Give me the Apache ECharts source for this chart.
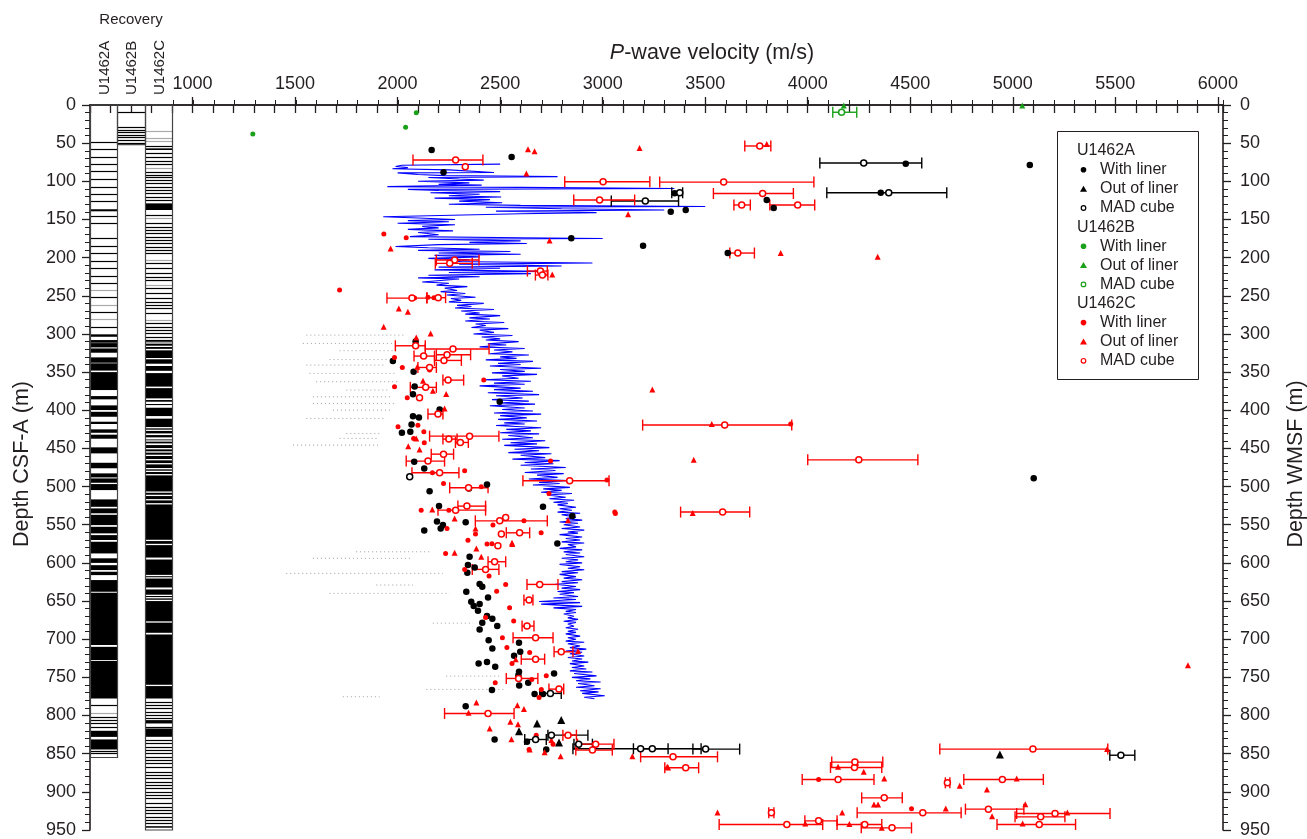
<!DOCTYPE html>
<html>
<head>
<meta charset="utf-8">
<script src="https://cdn.jsdelivr.net/npm/echarts@6/dist/echarts.min.js"></script>
<style>
html, body { margin: 0; padding: 0; background: #fff; }
#chart { width: 1307px; height: 839px; }
</style>
</head>
<body>
<div id="chart"></div>
<script>
// P-wave velocity (m/s) vs depth (m)
const velTicks = [1000, 1500, 2000, 2500, 3000, 3500, 4000, 4500, 5000, 5500, 6000]
const holes = ['U1462A', 'U1462B', 'U1462C']

// continuous log (blue), [velocity, depth]
const pwl = [
  [2500,77.5],[2020,79],[1990,80.5],[2050,82],[1975,83.5],[2250,85],[2470,88.5],[2000,89],[2100,91],[2230,92.5],
  [2780,93.8],[2150,95],[2300,97],[2420,98.5],[2100,100],[2350,102],[2200,104],[2410,105],[1950,107],[2600,108],
  [3350,109.5],[2050,110.5],[2200,112],[2500,113.5],[2160,115],[2400,117],[2250,119],[2505,120.5],[2180,122],[2450,124],
  [2300,126],[2510,128],[2250,130],[2600,131.5],[3500,133],[2430,134],[2800,136],[3300,137.5],[2480,139],[2970,141],
  [2600,142.5],[1930,146.5],[2100,148],[2280,150],[2050,151.5],[2250,153],[2000,155],[2280,157],[2120,159],[2200,161],
  [2050,163],[2270,165],[2100,167],[2200,170],[2060,172.5],[2600,174],[3000,175],[2150,176],[2600,178],[2350,180],
  [2630,181.5],[2200,183],[1990,185.5],[2150,187],[2400,189],[2100,190.5],[2550,192],[2200,194],[2600,195.5],[2180,197],
  [2400,199],[2150,201],[2350,203],[2250,205],[2950,207],[2300,208.5],[2800,211],[2200,212.5],[2500,214],[2180,216],
  [2700,218],[2250,219.5],[2650,221],[2150,223],[2400,225],[2100,226.5],[2300,228],
  [2300,230],[2120,232],[2250,233.5],[2190,236],[2340,238],[2230,240],[2290,243],[2210,244.5],[2330,247],[2240,249],
  [2380,252],[2260,253.5],[2310,256],[2250,258],[2420,260],[2290,262.5],[2360,264],[2280,266],[2470,268],[2310,270],
  [2400,272.5],[2330,274],[2500,276],[2350,279],[2450,280.5],[2330,283],[2520,285],[2380,287],[2430,289],[2360,291.5],
  [2540,293],[2400,295],[2470,298],[2370,300],[2560,302],[2410,304],[2500,306.5],[2430,308],[2590,310],[2440,313],
  [2530,314.5],[2400,317],[2620,319],[2470,321],[2560,323.5],[2450,326],[2640,327.5],[2500,330],[2580,332],[2430,334],
  [2660,336],[2490,338.5],[2600,340],[2450,342],[2700,345],[2500,346.5],[2620,349],[2460,351],[2680,353],[2510,355],
  [2590,358],[2420,360],[2650,362],[2470,364.5],[2620,366],[2400,368],[2600,371],[2470,373],[2660,375],[2440,377],
  [2690,379.5],[2480,381],[2610,384],[2460,386],[2640,388],[2500,390.5],[2670,392],[2450,394],[2620,397],[2510,399],
  [2660,401],[2470,403.5],[2700,405],[2500,407],[2630,410],[2490,412],[2680,414],[2520,416.5],[2620,418],[2480,420],
  [2700,423],[2530,425],[2650,427],[2500,429.5],[2690,431],[2540,433],[2660,436],[2510,438],[2720,440],[2550,442.5],
  [2680,444],[2520,446],[2740,449],[2570,451],[2690,453],[2540,455.5],[2750,457],[2600,459],[2720,462],[2560,464],
  [2790,466],[2620,468.5],[2760,470],[2600,472],[2820,475],[2650,477],[2770,479],[2620,481.5],[2810,483],[2680,485],
  [2780,488],[2640,490],[2830,492],[2690,494.5],[2790,496],[2660,498],[2840,501],[2710,503],[2800,505],[2700,507.5],
  [2850,509],[2730,511],[2820,514],[2740,516],[2860,518],[2760,520.5],[2830,522],[2780,524],[2870,527],[2790,529],
  [2850,531],[2780,533.5],[2890,535],[2800,537],[2870,540],[2820,542],[2900,544],[2790,546.5],[2880,548],[2810,550],
  [2890,553],[2800,555],[2910,557],[2830,559.5],[2880,561],[2790,563],[2900,566],[2820,568],[2890,570],[2800,572.5],
  [2910,574],[2830,576],[2870,579],[2790,581],[2900,583],[2810,585.5],[2890,587],[2820,589],[2910,592],[2800,594],
  [2880,596],[2820,598.5],[2900,600],[2790,602],[2890,605],[2830,607],[2910,609],[2800,611.5],[2880,613],[2790,615],
  [2870,618],[2810,620],[2900,622],[2800,624.5],[2880,626],[2770,628],[2870,631],[2800,633],[2890,635],[2780,637.5],
  [2860,639],[2790,641],[2880,644],[2760,646],[2870,648],[2690,650.5],[2890,652],[2700,654],[2900,657],[2760,659],
  [2870,661],[2820,663.5],[2870,665],[2810,667],[2860,670],[2830,672],[2880,674],[2810,676.5],[2870,678],[2830,680],
  [2860,683],[2820,685],[2880,687],[2830,689.5],[2870,691],[2820,693],[2890,696],[2830,698],[2870,700],[2820,702.5],
  [2910,704],[2830,706],[2890,709],[2840,711],[2920,713],[2820,715.5],[2900,717],[2840,719],[2910,722],[2830,724],
  [2900,726],[2850,728.5],[2930,730],[2840,732],[2910,735],[2850,737],[2920,739],[2840,741.5],[2950,743],[2860,745],
  [2970,748],[2850,750],[2940,752],[2870,754.5],[2990,756],[2880,758],[2960,761],[2870,763],[2990,765],[2890,767.5],
  [2980,769],[2900,771],[3010,774],[2910,776],[2960,778]
]

// faint grey streaks: [depth, vFrom, vTo]
const greyStreaks = [
  [301.5,1555,2042],[312.4,1538,1977],[322,1717,1993],[333.4,1668,1961],[340.8,1555,1945],[351.7,1570,1993],
  [362.6,1603,2010],[373.5,1750,1961],[382.3,1587,1977],[391,1587,1993],[399.8,1685,1977],[410.7,1555,1945],
  [430.4,1750,1912],[436.9,1717,1912],[445.7,1490,1912],[585.4,1798,2156],[594,1587,2075],[613.8,1457,2221],
  [629,1896,2075],[640,1668,2254],[679,2172,2368],[748.4,2237,2497],[765.8,2140,2530],[775.4,1733,1912]
]

// U1462A  [velocity, depth]; MAD cube [velocity, depth, low, high]
const aLiner = [
  [2166,59],[2556,68],[2224,88],[4478,77],[5083,78.6],[4356,115],[3351,115.5],[3405,137.6],[3332,140],
  [3800,124.5],[3834,135],[2847,174.6],[3197,184.4],[3610,194],[5102,489],
  [2088,310],[1977,335.6],[2078,349.5],[2083,369],[2075,379],[2498,389],[2205,399],[2075,407.7],[2104,409.4],
  [2068,418.6],[2062,428.2],[2021,429.5],[2081,467.5],[2130,476.3],[2436,497.2],[2348,502.5],[2156,506],
  [2202,525.6],[2709,526.5],[2332,546.6],[2192,545.7],[2221,550.5],[2210,554.9],[2130,557.5],[2852,538.7],
  [2779,574.5],[2351,592],[2343,602.9],[2376,605.9],[2340,612.9],[2400,627.8],[2413,631.3],[2335,637.8],
  [2441,645.2],[2359,650.9],[2400,654],[2371,656.6],[2392,662.7],[2436,669.7],[2462,673.2],[2413,678.5],
  [2486,682.8],[2400,687.2],[2444,701.2],[2592,704.7],[2462,712.1],[2598,716.5],[2568,721.7],[2395,731.7],
  [2436,730],[2476,736.1],[2592,742.7],[2589,747.1],[2763,744.9],[2637,757.1],[2593,760.6],[2460,766.7],
  [2668,771.9],[2709,771.9],[2332,787.7],[2473,831.4],[2725,844.5],[2631,834.4]
]
const aOut = [[2592,820.5],[2680,810.4],[2798,806],[2787,835.3],[4937,851]]
const aMad = [
  [4273,76,4059,4556],[4395,115,4093,4678],[3376,115,3337,3390],[3208,125.8,3042,3370],[2059,487.2,2059,2059],
  [2745,771,2693,2798],[2673,831.4,2620,2725],[2750,825.7,2733,2928],[2883,837.5,2860,2950],
  [3185,843.6,2855,3319],[3242,843.6,3150,3480],[3502,844,3440,3668],[5527,852,5473,5595]
]

// U1462B
const bLiner = [[2091,10],[2039,29.3],[1294,38]]
const bOut = [[4176,0.5],[5046,0.5]]
const bMad = [[4165,9.5,4122,4239]]

// U1462C
const cLiner = [
  [1933,169],[2042,173.9],[1717,242.5],[2083,253],[2177,252.5],[2075,252],[2148,252],[1985,330.8],[2023,343.9],
  [2156,347.4],[2420,360.5],[1985,369.2],[2047,383.6],[2002,421.6],[2099,419.5],[2128,428.2],[2078,436.9],
  [2130,442.6],[2150,466.6],[2170,481.9],[2327,479.3],[3021,491.5],[2746,466.6],[3062,535.2],[2738,509],
  [2408,500.3],[2224,496],[2115,530.9],[2250,531],[2616,544.9],[2465,550.5],[2241,554.9],[2700,560.6],
  [2380,562],[2343,570.2],[2460,575],[2234,587.6],[2436,575.3],[2327,608.5],[2446,617.3],[2527,628.2],
  [2483,637],[2546,658.8],[2429,671.5],[2566,676.3],[2511,698.1],[2533,710.8],[2644,717.3],[2558,731.7],
  [2725,747.9],[2654,752.7],[2476,757.1],[2701,765.8],[2690,776.3],[2676,826],[2641,844.5],[2758,837.5],
  [3917,418],[3059,533.4],[4053,883.8],[4506,922.3]
]
const cOut = [
  [2636,58.1],[2668,60.7],[3180,56.4],[3800,51],[2628,89.6],[3124,143.3],[2741,177.4],[1966,187.9],[2754,222],
  [2006,266.5],[2050,270.9],[1932,290.6],[2161,299.3],[2091,304.5],[2096,343],[2124,361.4],[2172,374.5],
  [2237,378.8],[2229,397.6],[2091,436.9],[2052,447],[2107,451.3],[3242,372.7],[2169,530],[2278,541.8],
  [2380,554.9],[2831,544],[2559,575.4],[2384,581],[2278,586.7],[2408,592],[2558,573.6],[2880,715.6],
  [2576,726.1],[2384,782.9],[2346,796.4],[2584,786.4],[2616,791.6],[2550,808.2],[2587,811.3],[2449,817],
  [2555,831],[2750,832.2],[2644,844.5],[2717,848],[2795,853.2],[3145,853.2],[3319,868],[3532,418],[3444,465],
  [3439,534.7],[5854,734],[3868,194],[4341,199],[3315,867.2],[4148,867.2],[4236,862],[4273,873.8],[4373,882.5],
  [4741,892.1],[5019,882.5],[4874,897],[4323,916.6],[4343,916.6],[5061,916.2],[4673,921.9],[5266,927.1],
  [4899,931.9],[3560,927.1],[4168,927],[3988,941.5],[4203,942],[4361,947],[5048,941.5],[5460,844]
]
const cMad = [
  [3766,53.7,3693,3820],[2283,72.1,2075,2416],[2330,80.8,2330,2330],[3002,100.5,2815,3230],[3590,101,3278,4030],
  [2985,124.5,2859,3156],[2278,203.2,2189,2397],[2254,207.5,2184,2364],[2696,217.6,2633,2730],
  [2706,222.8,2672,2733],[2070,253,1948,2143],[2198,252.5,2143,2234],[3659,194,3620,3740],[3678,131,3640,3720],
  [3951,131,3815,4034],[3780,116,3540,3930],
  [2088,315.5,1989,2135],[2270,319.8,2135,2446],[2127,329,2080,2180],[2241,327.3,2189,2356],[2226,334.7,2180,2311],
  [2156,343.9,2099,2189],[2246,360.5,2221,2322],[2137,370,2062,2189],[2107,383.6,2107,2107],[2197,405,2148,2221],
  [2351,433.9,2156,2494],[2250,437.8,2221,2290],[2306,442.2,2282,2345],[2224,457.5,2164,2273],
  [2148,466.6,2042,2229],[2205,481.9,2070,2299],[2839,492.4,2611,3031],[2346,501.6,2254,2441],
  [2283,530.9,2197,2429],[2338,525.6,2294,2429],[2498,544.9,2379,2730],[2527,540.5,2527,2527],
  [2595,560.6,2530,2644],[2506,562,2506,2506],[2489,577.6,2489,2489],[2473,598.5,2441,2527],
  [2429,608.5,2364,2494],[2693,628.2,2631,2782],[2641,648.7,2616,2660],[2631,682.8,2607,2665],
  [2673,698.1,2563,2758],[2798,716.5,2763,2855],[2673,726.1,2603,2717],[2590,751.4,2530,2684],
  [2787,765.4,2738,2810],[3595,419.4,3195,3922],[4249,465,4000,4537],[3585,533.4,3380,3717],
  [2441,797.3,2229,2568],[2831,825.7,2806,2872],[2966,837.5,2877,3055],[2950,845.3,2869,3047],
  [3343,854.1,3185,3560],[3405,868.5,3303,3468],[4228,868.1,4111,4361],[4148,883.8,3973,4323],
  [4681,888.2,4671,4693],[4949,883.8,4761,5149],[4373,907.9,4263,4461],[4881,922.7,4769,5054],
  [4561,927.5,4241,4748],[5206,928.4,5019,5474],[5136,932.8,5011,5254],[3823,927.5,3810,3835],
  [4053,938,3986,4143],[3898,942.8,3568,4073],[4278,942.8,4143,4361],[4411,947.2,4261,4506],
  [5129,942.8,4923,5306],[5098,844,4644,5463],[4230,861,4117,4366]
]

// recovery columns, depths in m
const recAEnd = 855, recBEnd = 52, recCEnd = 950
const recABands = [
  [136.6,139.3],[300.5,303.7],[308,311.5],[312,317.6],[319,324.6],[330.7,337.7],[338.5,348],[350,373.5],
  [381.4,385.7],[393.6,399.7],[402,408.5],[415,418],[425,429.5],[432,437.3],[448.6,456.5],[468.8,476],
  [482.7,488],[489.3,495],[496.7,504.6],[516.8,526.5],[528.6,535],[537,550.5],[552.7,561.3],[563.6,570],
  [572.3,587.6],[594,600],[603,609.4],[611.6,616],[622.5,637.8],[639,707.7],[710,727.4],[728.7,777.6],
  [820,828],[831.3,844.5]
]
const recALines = [48.9,58,68.6,77.8,86.9,97.4,107,117,126,146,155,174.7,184.3,194.4,204,214,223.7,232.9,252,
  271.7,291.4,786.3,801.6,806,810.4,814.8,846.6,849.7]
const recAGrey = [242,262,281,797.2]
const recBLines = [9.6,29.2,32.8,35.8,38.9,42.3,45.9,49.4]
const recCBands = [[56.8,59],[128.9,137.6],[309.5,777.6],[806,810.4],[817,827.9],[945,947]]
const recCGaps = [
  [311,312],[315.4,316.4],[319.5,321.5],[331.5,332.5],[339,342],[348.3,351.3],[369,371],[384.4,386.6],
  [388.8,391.8],[393.2,396.7],[407.6,411],[422,423],[425.4,426.4],[430.3,432.5],[435.5,438.2],[439.4,440.4],
  [443.4,445.6],[449.5,450.5],[453.8,454.8],[458.2,459.2],[463.9,464.9],[469.2,470.2],[475.7,476.7],
  [479.2,480.2],[483.6,484.6],[506.4,507.4],[510.7,511.7],[516.4,517.4],[521.7,522.7],[569.7,570.7],
  [575,576],[593,595.6],[615.7,616.7],[618.8,619.8],[632.2,634.8],[641.7,642.7],[644.8,645.8],[648.3,649.3],
  [676.6,677.6],[691.6,693.8],[759.7,760.7]
]
const recCLines = [53.3,63.3,67.7,73,77.8,87.4,91.7,94.8,98.3,102.7,107,111.4,115.8,120.1,124.5,144.2,155.1,
  159.5,163.9,168.2,172.6,177,181.3,185.7,190,194.4,207.5,214,220.6,225,229.3,240.3,246.8,253.4,257.8,262.1,
  266.5,273,286.2,290.6,294.9,299.3,303.7,308,781.9,786.3,790.7,795,799.4,803.7,814.8,832.2,836.6,841,845.3,
  849.7,854,858.4,862.8,867.2,873.7,878,882.4,886.8,891.2,895.5,899.9,904.2,908.6,915.2,919.5,923.9,928.3,
  932.6,937,941.4]
const recCGrey = [33.6,42.8,47.6,83,148.6,203.2,235.9,281.8]

const colEdges = [500, 633, 767, 900]
const ink = '#231f20'
const red = '#ff0000'
const green = '#1aa01a'
const font = "'Liberation Sans', Arial, sans-serif"

// recovery items: [column, top, bottom, kind] kind 0 band, 1 gap, 2 line, 3 grey line, 4 outline
const recItems = []
recABands.forEach(b => recItems.push([0, b[0], b[1], 0]))
recCBands.forEach(b => recItems.push([2, b[0], b[1], 0]))
recCGaps.forEach(b => recItems.push([2, b[0], b[1], 1]))
recALines.forEach(d => recItems.push([0, d, d, 2]))
recBLines.forEach(d => recItems.push([1, d, d, 2]))
recCLines.forEach(d => recItems.push([2, d, d, 2]))
recAGrey.forEach(d => recItems.push([0, d, d, 3]))
recCGrey.forEach(d => recItems.push([2, d, d, 3]))
recItems.push([0, 0, recAEnd, 4], [1, 0, recBEnd, 4], [2, 0, recCEnd, 4])

function renderRecovery(params, api) {
  const col = api.value(0), top = api.value(1), bot = api.value(2), kind = api.value(3)
  const p0 = api.coord([colEdges[col], top])
  const p1 = api.coord([colEdges[col + 1], bot])
  const x0 = Math.round(p0[0]), x1 = Math.round(p1[0])
  if (kind === 0 || kind === 1) {
    return { type: 'rect', shape: { x: x0, y: p0[1], width: x1 - x0, height: Math.max(1.3, p1[1] - p0[1]) },
      style: { fill: kind === 0 ? '#000' : '#fff' } }
  }
  if (kind === 2 || kind === 3) {
    const y = Math.round(p0[1]) + 0.5
    return { type: 'line', shape: { x1: x0, y1: y, x2: x1, y2: y },
      style: { stroke: kind === 2 ? '#000' : '#aaa', lineWidth: 1.2 } }
  }
  return { type: 'rect', shape: { x: x0 + 0.5, y: p0[1], width: x1 - x0, height: p1[1] - p0[1] },
    style: { fill: 'none', stroke: '#444', lineWidth: 1.2 } }
}

function errSeries(rows, color) {
  const data = rows.filter(r => r[3] > r[2]).map(r => [r[2], r[3], r[1]])
  return {
    type: 'custom', data, z: 4, silent: true,
    renderItem(params, api) {
      const a = api.coord([api.value(0), api.value(2)])
      const b = api.coord([api.value(1), api.value(2)])
      const h = 5.5
      const style = { stroke: color, lineWidth: 1.4 }
      return { type: 'group', children: [
        { type: 'line', shape: { x1: a[0], y1: a[1], x2: b[0], y2: b[1] }, style },
        { type: 'line', shape: { x1: a[0], y1: a[1] - h, x2: a[0], y2: a[1] + h }, style },
        { type: 'line', shape: { x1: b[0], y1: b[1] - h, x2: b[0], y2: b[1] + h }, style }
      ] }
    }
  }
}

function dots(data, color, symbol, size, z) {
  return { type: 'scatter', data, symbol, symbolSize: size, z: z || 5, silent: true,
    itemStyle: { color, opacity: 1 } }
}
function madDots(rows, color) {
  return { type: 'scatter', data: rows.map(r => [r[0], r[1]]), symbol: 'circle', symbolSize: 6, z: 6, silent: true,
    itemStyle: { color: '#fff', borderColor: color, borderWidth: 1.5, opacity: 1 } }
}

// legend drawn by hand
const legendRows = [
  ['U1462A', null, null], ['With liner', '#000', 'dot'], ['Out of liner', '#000', 'tri'], ['MAD cube', '#000', 'ring'],
  ['U1462B', null, null], ['With liner', green, 'dot'], ['Out of liner', green, 'tri'], ['MAD cube', green, 'ring'],
  ['U1462C', null, null], ['With liner', red, 'dot'], ['Out of liner', red, 'tri'], ['MAD cube', red, 'ring']
]
const legendEls = [{ type: 'rect', shape: { x: 1057.5, y: 131.5, width: 141, height: 248 },
  style: { fill: '#fff', stroke: ink, lineWidth: 1 }, z: 10 }]
legendRows.forEach((r, i) => {
  const y = 150.7 + i * 19.1
  if (!r[1]) {
    legendEls.push({ type: 'text', x: 1077, y, z: 11,
      style: { text: r[0], font: '16px ' + font, fill: ink, textVerticalAlign: 'middle' } })
    return
  }
  let sym
  if (r[2] === 'dot') sym = { type: 'circle', shape: { cx: 1083.5, cy: y, r: 2.8 }, style: { fill: r[1] } }
  else if (r[2] === 'tri') sym = { type: 'polygon', shape: { points: [[1083.5, y - 3.2], [1087, y + 2.8], [1080, y + 2.8]] }, style: { fill: r[1] } }
  else sym = { type: 'circle', shape: { cx: 1083.5, cy: y, r: 2.3 }, style: { fill: '#fff', stroke: r[1], lineWidth: 1.2 } }
  sym.z = 11
  legendEls.push(sym)
  legendEls.push({ type: 'text', x: 1100, y, z: 11,
    style: { text: r[0], font: '16px ' + font, fill: ink, textVerticalAlign: 'middle' } })
})

const textEls = [
  { type: 'text', x: 131, y: 20, style: { text: 'Recovery', font: '15px ' + font, fill: ink, textAlign: 'center', textVerticalAlign: 'middle' } },
  { type: 'text', x: 22, y: 464, rotation: Math.PI / 2,
    style: { text: 'Depth CSF-A (m)', font: '21.5px ' + font, fill: ink, textAlign: 'center', textVerticalAlign: 'middle' } },
  { type: 'text', x: 1296, y: 464, rotation: Math.PI / 2,
    style: { text: 'Depth WMSF (m)', font: '21.5px ' + font, fill: ink, textAlign: 'center', textVerticalAlign: 'middle' } }
]
holes.forEach((h, i) => {
  textEls.push({ type: 'text', x: 105 + i * 27.2, y: 95, rotation: Math.PI / 2,
    style: { text: h, font: '15px ' + font, fill: ink, textAlign: 'left', textVerticalAlign: 'middle' } })
})

const axisLine = { show: true, lineStyle: { color: ink, width: 1.6 } }
const depthAxis = (pos, margin) => ({
  type: 'value', gridIndex: 0, position: pos, inverse: true, min: 0, max: 950, interval: 50,
  axisLine, axisTick: { show: true, length: 8, lineStyle: { color: ink, width: 1.3 } },
  minorTick: { show: true, splitNumber: 5, length: 5, lineStyle: { color: ink, width: 1 } },
  axisLabel: { color: ink, fontSize: 18, fontFamily: font, margin },
  splitLine: { show: false }
})

const chart = echarts.init(document.getElementById('chart'))
chart.setOption({
  animation: false,
  backgroundColor: '#fff',
  title: {
    text: '{i|P}-wave velocity (m/s)', left: 707, top: 37, textAlign: 'center',
    textStyle: { fontSize: 21.5, fontWeight: 'normal', color: ink, fontFamily: font,
      rich: { i: { fontStyle: 'italic', fontSize: 21.5, color: ink, fontFamily: font } } }
  },
  grid: [
    { left: 90, right: 84, top: 105, bottom: 9 },
    { left: 173, right: 84, top: 105, bottom: 9 }
  ],
  xAxis: [
    { type: 'value', gridIndex: 0, position: 'bottom', min: 500, max: 6025, interval: 100,
      axisLine, axisTick: { show: true, length: 8, lineStyle: { color: ink, width: 1.3 } },
      axisLabel: { show: false }, splitLine: { show: false } },
    { type: 'value', gridIndex: 0, position: 'top', min: 500, max: 6025, interval: 500,
      axisLine, axisTick: { show: true, length: 8, customValues: velTicks, lineStyle: { color: ink, width: 1.3 } },
      axisLabel: { show: true, customValues: velTicks, formatter: v => String(v),
        color: ink, fontSize: 18, fontFamily: font, margin: 12 },
      splitLine: { show: false } },
    { type: 'value', gridIndex: 1, position: 'top', min: 900, max: 6025, interval: 100,
      axisLine: { show: false }, axisTick: { show: true, length: 5, lineStyle: { color: ink, width: 1 } },
      axisLabel: { show: false }, splitLine: { show: false } }
  ],
  yAxis: [
    depthAxis('left', 14),
    depthAxis('right', 17),
    { type: 'value', gridIndex: 1, inverse: true, min: 0, max: 950, show: false }
  ],
  graphic: { elements: textEls.concat(legendEls) },
  series: [
    { type: 'custom', data: recItems, renderItem: renderRecovery, z: 2, silent: true, clip: false },
    { type: 'custom', data: greyStreaks, z: 2, silent: true,
      renderItem(params, api) {
        const a = api.coord([api.value(1), api.value(0)])
        const b = api.coord([api.value(2), api.value(0)])
        return { type: 'line', shape: { x1: a[0], y1: a[1], x2: b[0], y2: b[1] },
          style: { stroke: '#777', lineWidth: 1, lineDash: [1, 3], opacity: 0.7 } }
      } },
    { type: 'line', data: pwl, showSymbol: false, z: 3, silent: true,
      lineStyle: { color: '#0000ff', width: 1.1 } },
    errSeries(aMad, '#000'),
    dots(aLiner, '#000', 'circle', 6.5),
    dots(aOut, '#000', 'triangle', 8),
    madDots(aMad, '#000'),
    errSeries(cMad, red),
    dots(cLiner, red, 'circle', 5),
    dots(cOut, red, 'triangle', 6),
    madDots(cMad, red),
    errSeries(bMad, green),
    dots(bLiner, green, 'circle', 5),
    dots(bOut, green, 'triangle', 6),
    madDots(bMad, green)
  ]
})
</script>
</body>
</html>
